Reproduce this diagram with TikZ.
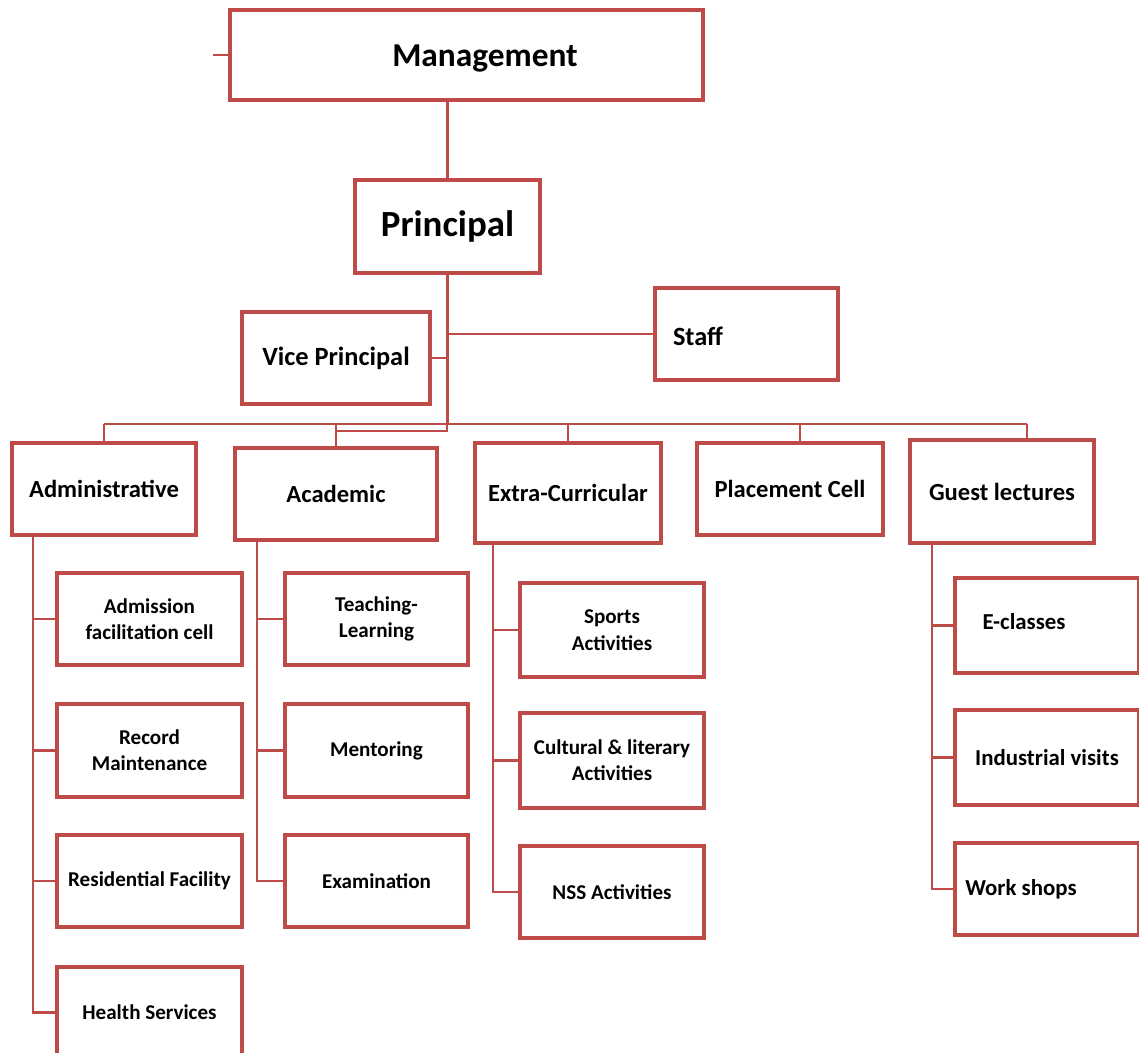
\documentclass[tikz,border=0pt]{standalone}
\usepackage{fontspec}
\setmainfont{Carlito}
\usetikzlibrary{calc}
\definecolor{bord}{RGB}{190,75,72}
\begin{document}
\begin{tikzpicture}[x=0.02cm,y=-0.02cm,
  box/.style={draw=bord, line width=1.8pt, fill=white, inner sep=0pt, align=center, font=\bfseries},
  conn/.style={draw=bord, line width=1.6pt}]
\useasboundingbox (0,0) rectangle (1139,1053);
\newcommand\bx[7][]{\node[box,#1,minimum width={(#4-#2)*0.02cm},minimum height={(#5-#3)*0.02cm}] (#6) at ({(#2+#4)/2},{(#3+#5)/2}) {#7};}
% top
\bx[line width=2.8pt,font=\bfseries\fontsize{19}{22}\selectfont]{230}{10}{703}{100}{mgmt}{\hspace{0.74cm}\raisebox{-0.24cm}[0pt][0pt]{Management}}
\bx[font=\bfseries\fontsize{21}{25}\selectfont]{355}{180}{540}{273}{prin}{Principal}
\bx[font=\bfseries\fontsize{15}{18}\selectfont]{242}{312}{430}{404}{vice}{Vice Principal}
\bx[font=\bfseries\fontsize{15}{18}\selectfont]{655}{288}{838}{380}{staff}{\raisebox{-0.24cm}[0pt][0pt]{Staff}\hspace{1.94cm}}
% level 2
\bx[font=\bfseries\fontsize{14}{17}\selectfont]{12}{443}{196}{535}{admin}{Administrative}
\bx[font=\bfseries\fontsize{14}{17}\selectfont]{235}{448}{437}{540}{acad}{Academic}
\bx[font=\bfseries\fontsize{14}{17}\selectfont]{475}{443}{661}{543}{extra}{Extra-Curricular}
\bx[font=\bfseries\fontsize{14}{17}\selectfont]{697}{443}{883}{535}{place}{Placement Cell}
\bx[font=\bfseries\fontsize{14}{17}\selectfont]{910}{440}{1094}{543}{guest}{Guest lectures}
% admin children
\bx[font=\bfseries\fontsize{12}{15}\selectfont]{57}{573}{242}{665}{adm}{Admission\\facilitation cell}
\bx[font=\bfseries\fontsize{12}{15}\selectfont]{57}{704}{242}{797}{rec}{Record\\Maintenance}
\bx[font=\bfseries\fontsize{12}{15}\selectfont]{57}{835}{242}{927}{res}{Residential Facility}
\bx[font=\bfseries\fontsize{12}{15}\selectfont]{57}{967}{242}{1058}{hea}{Health Services}
% academic children
\bx[font=\bfseries\fontsize{12}{15}\selectfont]{285}{573}{468}{665}{teach}{Teaching-\\Learning}
\bx[font=\bfseries\fontsize{12}{15}\selectfont]{285}{704}{468}{797}{ment}{Mentoring}
\bx[font=\bfseries\fontsize{12}{15}\selectfont]{285}{835}{468}{927}{exam}{Examination}
% extra children
\bx[font=\bfseries\fontsize{12}{15}\selectfont]{520}{583}{704}{677}{sport}{Sports\\Activities}
\bx[font=\bfseries\fontsize{12}{15}\selectfont]{520}{713}{704}{808}{cult}{Cultural \& literary\\Activities}
\bx[font=\bfseries\fontsize{12}{15}\selectfont]{520}{846}{704}{938}{nss}{NSS Activities}
% guest children
\bx[font=\bfseries\fontsize{13}{16}\selectfont]{955}{578}{1139}{673}{ecl}{\raisebox{0.15cm}{E-classes}\hspace{0.92cm}}
\bx[font=\bfseries\fontsize{13}{16}\selectfont]{955}{710}{1139}{805}{ind}{Industrial visits}
\bx[font=\bfseries\fontsize{13}{16}\selectfont]{955}{843}{1139}{935}{work}{Work shops\hspace{1.04cm}}
% coordinates
\coordinate (bus) at (447,424);
\coordinate (bus2) at (447,431);
\coordinate (c1) at (33,535);
\coordinate (c2) at (257,540);
\coordinate (c3) at (493,543);
\coordinate (c4) at (932,543);
\coordinate (pdrop) at ($(place.north)+(10,0)$);
\coordinate (gdrop) at ($(guest.north)+(25,0)$);
% connectors
\draw[conn] (mgmt.west) -- ++(-15,0);
\draw[conn] (mgmt.south -| prin.north) -- (prin.north);
\draw[conn] (prin.south) -- (prin.south |- bus);
\draw[conn] (prin.south |- staff.west) -- (staff.west);
\draw[conn] (vice.east) -- (vice.east -| prin.south);
\draw[conn] (admin.north |- bus) -- (gdrop |- bus);
\draw[conn] (acad.north |- bus2) -- (bus2) -- (bus);
\draw[conn] (admin.north) -- (admin.north |- bus);
\draw[conn] (acad.north) -- (acad.north |- bus);
\draw[conn] (extra.north) -- (extra.north |- bus);
\draw[conn] (pdrop) -- (pdrop |- bus);
\draw[conn] (gdrop) -- (gdrop |- bus);
% columns
\draw[conn] (c1) |- (hea.west);
\draw[conn] (c1 |- adm.west) -- (adm.west);
\draw[conn] (c1 |- rec.west) -- (rec.west);
\draw[conn] (c1 |- res.west) -- (res.west);
\draw[conn] (c2) |- (exam.west);
\draw[conn] (c2 |- teach.west) -- (teach.west);
\draw[conn] (c2 |- ment.west) -- (ment.west);
\draw[conn] (c3) |- (nss.west);
\draw[conn] (c3 |- sport.west) -- (sport.west);
\draw[conn] (c3 |- cult.west) -- (cult.west);
\draw[conn] (c4) |- (work.west);
\draw[conn] (c4 |- ecl.west) -- (ecl.west);
\draw[conn] (c4 |- ind.west) -- (ind.west);
\end{tikzpicture}
\end{document}
